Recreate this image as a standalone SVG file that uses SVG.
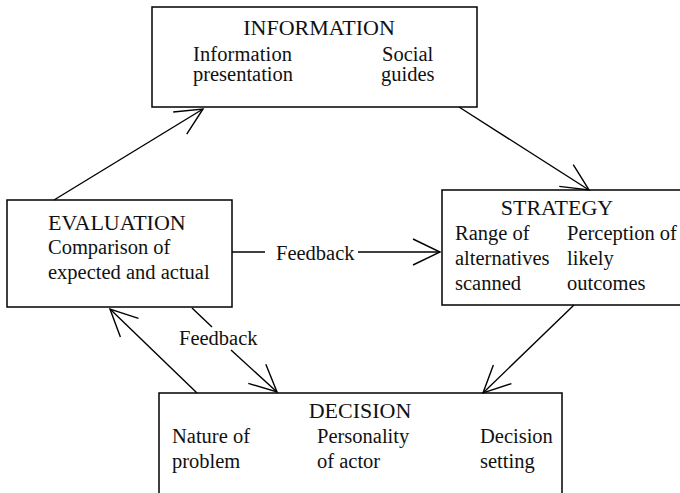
<svg xmlns="http://www.w3.org/2000/svg" width="680" height="493" viewBox="0 0 680 493" font-family="Liberation Serif, Times New Roman, serif">
<style>
.box{fill:#fff;stroke:#000;stroke-width:1.5}
.t{font-size:22px;fill:#111}
.b{font-size:20.5px;fill:#111}
.c{stroke:#000;stroke-width:1.4;fill:none}
</style>
<defs>
<marker id="ah" viewBox="-30 -18 34 36" refX="0" refY="0" markerWidth="34" markerHeight="36" markerUnits="userSpaceOnUse" orient="auto" overflow="visible">
<path d="M-27,-13 L0,0 L-27,13" fill="none" stroke="#000" stroke-width="1.4"/>
</marker>
</defs>
<rect width="680" height="493" fill="#fff"/>
<g id="information">
<rect class="box" x="152" y="7" width="325" height="100"/>
<text class="t" x="319" y="35" text-anchor="middle">INFORMATION</text>
<text class="b" x="193" y="61" font-size="20" textLength="99">Information</text>
<text class="b" x="193" y="81" font-size="20" textLength="100">presentation</text>
<text class="b" x="382" y="61" font-size="20">Social</text>
<text class="b" x="381" y="81" font-size="20">guides</text>
</g>
<g id="evaluation">
<rect class="box" x="7" y="200" width="225" height="107"/>
<text class="t" x="48" y="230">EVALUATION</text>
<text class="b" x="48" y="254">Comparison of</text>
<text class="b" x="48" y="279">expected and actual</text>
</g>
<g id="strategy">
<rect class="box" x="442" y="190" width="250" height="115"/>
<text class="t" x="557" y="215" text-anchor="middle">STRATEGY</text>
<text class="b" x="455" y="240">Range of</text>
<text class="b" x="455" y="265">alternatives</text>
<text class="b" x="455" y="290">scanned</text>
<text class="b" x="567" y="240">Perception of</text>
<text class="b" x="567" y="265">likely</text>
<text class="b" x="567" y="290">outcomes</text>
</g>
<g id="decision">
<rect class="box" x="159" y="393" width="403" height="120"/>
<text class="t" x="360" y="418" text-anchor="middle">DECISION</text>
<text class="b" x="172" y="443">Nature of</text>
<text class="b" x="172" y="468">problem</text>
<text class="b" x="317" y="443">Personality</text>
<text class="b" x="317" y="468">of actor</text>
<text class="b" x="480" y="443">Decision</text>
<text class="b" x="480" y="468">setting</text>
</g>
<g id="connectors">
<line class="c" x1="54" y1="200" x2="203" y2="109" marker-end="url(#ah)"/>
<line class="c" x1="459" y1="107" x2="589" y2="190" marker-end="url(#ah)"/>
<line class="c" x1="574" y1="305" x2="483" y2="393" marker-end="url(#ah)"/>
<line class="c" x1="197" y1="393" x2="110" y2="309" marker-end="url(#ah)"/>
<line class="c" x1="232" y1="252" x2="265" y2="252"/>
<line class="c" x1="358" y1="252" x2="440" y2="252" marker-end="url(#ah)"/>
<text class="b" x="276" y="260">Feedback</text>
<line class="c" x1="192" y1="308" x2="212" y2="327"/>
<line class="c" x1="231" y1="350" x2="277" y2="392" marker-end="url(#ah)"/>
<text class="b" x="179" y="345">Feedback</text>
</g>
</svg>
